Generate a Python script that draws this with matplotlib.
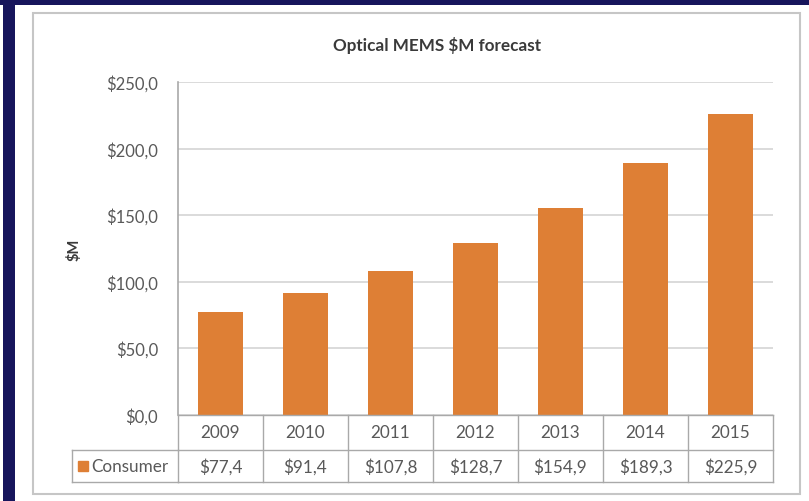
import matplotlib
matplotlib.use("Agg")
import matplotlib.pyplot as plt
from matplotlib.patches import Rectangle
from matplotlib.transforms import blended_transform_factory

years = ["2009", "2010", "2011", "2012", "2013", "2014", "2015"]
consumer = [77.4, 91.4, 107.8, 128.7, 154.9, 189.3, 225.9]
y_ticks = [0, 50, 100, 150, 200, 250]
series_name = "Consumer"
title = "Optical MEMS $M forecast"
y_label = "$M"

W, H = 809, 502
NAVY = "#17155c"
ORANGE = "#de7f35"
GREY_TXT = "#595959"
GRID = "#d4d4d4"
EDGE = "#a9a9a9"

plt.rcParams["font.family"] = ["Lato", "DejaVu Sans"]


def money(v):
    return f"${v:.1f}".replace(".", ",")


def px(x0, y0, x1, y1):
    # pixel box (top-left origin) -> figure fraction rect
    return [x0 / W, 1 - y1 / H, (x1 - x0) / W, (y1 - y0) / H]


fig = plt.figure(figsize=(W / 100, H / 100), dpi=100, facecolor="white")

# outer slide border and chart frame
fig.patches.append(Rectangle((0, 1 - 6 / H), 1, 6 / H, transform=fig.transFigure,
                             facecolor=NAVY, edgecolor="none", zorder=-2))
fig.patches.append(Rectangle((3 / W, 0), 12 / W, 1, transform=fig.transFigure,
                             facecolor=NAVY, edgecolor="none", zorder=-2))
fig.patches.append(Rectangle((33 / W, 1 - 495 / H), (800 - 33) / W, (495 - 14) / H,
                             transform=fig.transFigure, facecolor="white",
                             edgecolor="#c6c6c6", linewidth=1.5, zorder=-1))

AX_TOP, AX_BOT, AX_L, AX_R = 83, 415.5, 178, 773
ax = fig.add_axes(px(AX_L, AX_TOP, AX_R, AX_BOT))
ax.patch.set_alpha(0)
x = list(range(len(years)))
ax.bar(x, consumer, width=0.52, color=ORANGE, zorder=3)
ax.set_xlim(-0.5, len(years) - 0.5)
ax.set_ylim(0, 250)
ax.set_yticks(y_ticks)
ax.set_yticklabels([money(v) for v in y_ticks], color=GREY_TXT, fontsize=12)
ax.set_xticks([])
ax.yaxis.grid(True, color=GRID, linewidth=1.2, zorder=0)
ax.tick_params(axis="y", length=0, pad=14.4)
for side in ["top", "right", "bottom"]:
    ax.spines[side].set_visible(False)
ax.spines["left"].set_color(EDGE)
ax.spines["left"].set_linewidth(1.2)

# data table under the plot: x in data units, y in axes fraction
ax_h = AX_BOT - AX_TOP
ax_w = AX_R - AX_L
row1 = -(451 - AX_BOT) / ax_h
row2 = -(483 - AX_BOT) / ax_h
lab_left = (72 - AX_L) / ax_w
tr = blended_transform_factory(ax.transData, ax.transAxes)
line_kw = dict(color=EDGE, linewidth=1.0, clip_on=False, zorder=4)

lo, hi = -0.5, len(years) - 0.5
for yy in (0, row1, row2):
    ax.plot([lo, hi], [yy, yy], transform=tr, **line_kw)
for i in range(len(years) + 1):
    ax.plot([i - 0.5, i - 0.5], [0, row2], transform=tr, **line_kw)
for yy in (row1, row2):
    ax.plot([lab_left, 0], [yy, yy], transform=ax.transAxes, **line_kw)
ax.plot([lab_left, lab_left], [row1, row2], transform=ax.transAxes, **line_kw)

for i, (yr, v) in enumerate(zip(years, consumer)):
    ax.text(i, row1 / 2, yr, transform=tr, ha="center", va="center",
            fontsize=12.3, color=GREY_TXT)
    ax.text(i, (row1 + row2) / 2, money(v), transform=tr, ha="center", va="center",
            fontsize=12.3, color=GREY_TXT)

key_y = (row1 + row2) / 2
ax.plot([(83 - AX_L) / ax_w], [key_y], marker="s", markersize=7, color=ORANGE,
        transform=ax.transAxes, clip_on=False, zorder=5)
ax.text((91 - AX_L) / ax_w, key_y, series_name, transform=ax.transAxes,
        ha="left", va="center", fontsize=12.3, color=GREY_TXT)

fig.text(437 / W, 1 - 45 / H, title, ha="center", va="center",
         fontsize=12.3, fontweight="bold", color="#3a3a3a")
fig.text(74 / W, 1 - 250 / H, y_label, ha="center", va="center", rotation=90,
         fontsize=10.5, fontweight="bold", color="#3a3a3a")

fig.savefig("out.png", dpi=100, facecolor="white")
